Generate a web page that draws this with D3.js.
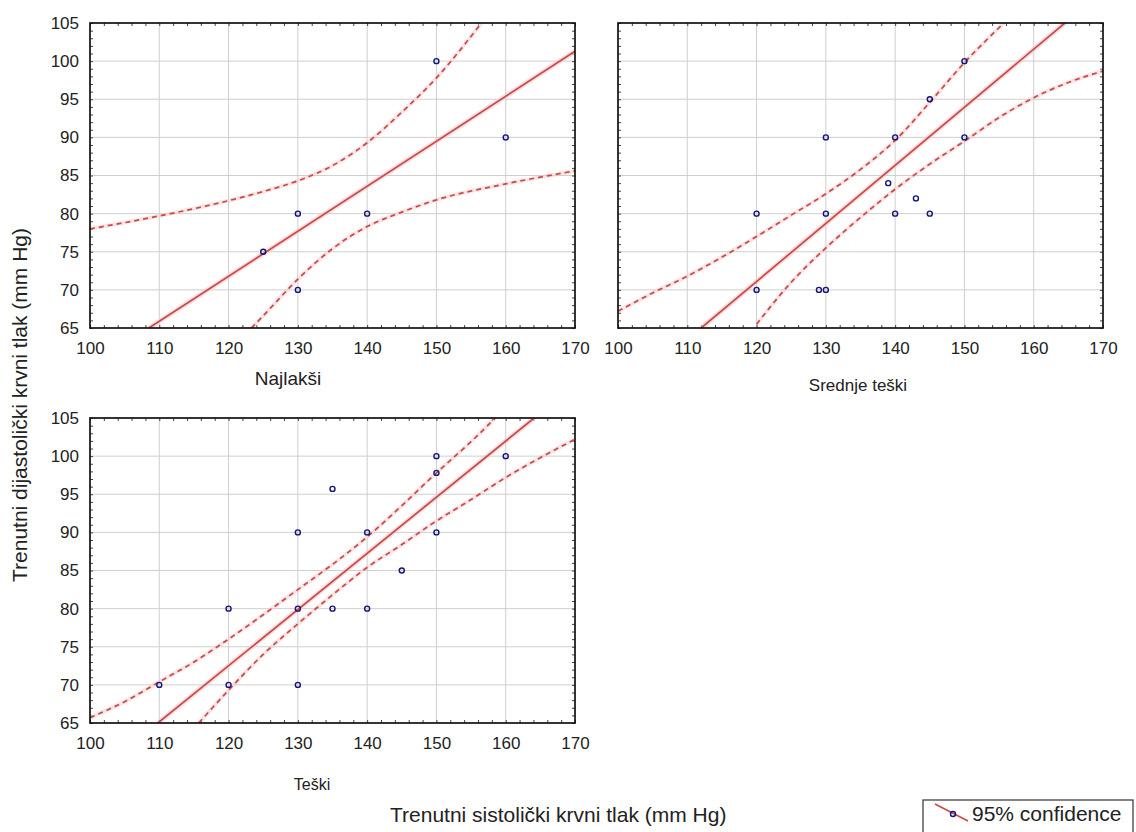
<!DOCTYPE html>
<html>
<head>
<meta charset="utf-8">
<script src="https://cdn.jsdelivr.net/npm/d3@7"></script>
<style>
  body { margin: 0; background: #fff; }
  svg { display: block; font-family: "Liberation Sans", Arial, sans-serif; }
  .tick-label { font-size: 17px; fill: #222; }
</style>
</head>
<body>
<div id="chart"></div>
<script>
// ticks
const xTicks = [100, 110, 120, 130, 140, 150, 160, 170];
const yTicks = [65, 70, 75, 80, 85, 90, 95, 100, 105];

// Najlakši
const najlaksiX = [125, 130, 130, 140, 150, 160];
const najlaksiY = [75, 80, 70, 80, 100, 90];
const najlaksiFitX = [108.5, 170];
const najlaksiFitY = [65, 101.3];
const najlaksiUpX = [100, 110, 120, 125, 130, 135, 140, 145, 150, 156.5];
const najlaksiUpY = [78.0, 79.7, 81.7, 82.9, 84.3, 86.3, 89.3, 93.3, 97.8, 105];
const najlaksiLoX = [123.3, 125, 130, 135, 140, 145, 150, 160, 170];
const najlaksiLoY = [65, 66.6, 71.4, 75.4, 78.3, 80.2, 81.8, 83.9, 85.6];

// Srednje teški
const srednjeX = [120, 120, 130, 130, 129, 130, 140, 140, 139, 143, 145, 145, 150, 150];
const srednjeY = [80, 70, 90, 80, 70, 70, 90, 80, 84, 82, 80, 95, 100, 90];
const srednjeFitX = [112, 164.5];
const srednjeFitY = [65, 105];
const srednjeUpX = [100, 105, 110, 115, 120, 125, 130, 135, 140, 145, 150, 155.7];
const srednjeUpY = [67.2, 69.6, 71.8, 74.3, 77.0, 79.8, 82.6, 85.8, 89.6, 94.6, 99.8, 105];
const srednjeLoX = [120, 125, 130, 135, 140, 145, 150, 155, 160, 165, 170];
const srednjeLoY = [65.5, 71.0, 75.5, 79.5, 83.2, 86.5, 89.5, 92.6, 95.2, 97.2, 98.7];

// Teški
const teskiX = [110, 120, 120, 130, 130, 130, 135, 135, 140, 140, 145, 150, 150, 150, 160];
const teskiY = [70, 80, 70, 90, 80, 70, 95.7, 80, 90, 80, 85, 100, 97.8, 90, 100];
const teskiFitX = [109.8, 164.1];
const teskiFitY = [65, 105];
const teskiUpX = [100, 105, 110, 115, 120, 125, 130, 135, 140, 145, 150, 155, 158.5];
const teskiUpY = [65.7, 67.8, 70.4, 73.0, 76.0, 79.2, 82.5, 85.8, 89.4, 93.5, 97.8, 101.9, 105];
const teskiLoX = [115.7, 120, 125, 130, 135, 140, 145, 150, 155, 160, 165, 170];
const teskiLoY = [65, 69.3, 74.0, 78.0, 81.8, 85.4, 88.4, 91.5, 94.3, 97.2, 99.8, 102.2];

const zip = (xs, ys) => xs.map((x, i) => [x, ys[i]]);

const panels = [
  { id: "p1", left: 90, top: 23, showY: true, label: "Najlakši", lx: 288, ly: 385, lsize: 19,
    pts: zip(najlaksiX, najlaksiY), fit: zip(najlaksiFitX, najlaksiFitY),
    up: zip(najlaksiUpX, najlaksiUpY), lo: zip(najlaksiLoX, najlaksiLoY) },
  { id: "p2", left: 618, top: 23, showY: false, label: "Srednje teški", lx: 858, ly: 391, lsize: 17,
    pts: zip(srednjeX, srednjeY), fit: zip(srednjeFitX, srednjeFitY),
    up: zip(srednjeUpX, srednjeUpY), lo: zip(srednjeLoX, srednjeLoY) },
  { id: "p3", left: 90, top: 418, showY: true, label: "Teški", lx: 312, ly: 790, lsize: 16,
    pts: zip(teskiX, teskiY), fit: zip(teskiFitX, teskiFitY),
    up: zip(teskiUpX, teskiUpY), lo: zip(teskiLoX, teskiLoY) }
];

const W = 1136, H = 832;
const pw = 485, ph = 305;
const red = "#c94848";
const blue = "#14147a";

const svg = d3.select("#chart").append("svg")
  .attr("width", W).attr("height", H);

panels.forEach(p => {
  const x = d3.scaleLinear().domain([100, 170]).range([0, pw]);
  const y = d3.scaleLinear().domain([65, 105]).range([ph, 0]);
  const g = svg.append("g").attr("transform", "translate(" + p.left + "," + p.top + ")");

  g.append("clipPath").attr("id", "clip-" + p.id)
    .append("rect").attr("width", pw).attr("height", ph);

  // grid
  g.append("g").selectAll("line").data(xTicks.slice(1, -1)).enter().append("line")
    .attr("x1", d => x(d)).attr("x2", d => x(d))
    .attr("y1", 0).attr("y2", ph)
    .attr("stroke", "#cfcfcf").attr("stroke-width", 1);
  g.append("g").selectAll("line").data(yTicks.slice(1, -1)).enter().append("line")
    .attr("y1", d => y(d)).attr("y2", d => y(d))
    .attr("x1", 0).attr("x2", pw)
    .attr("stroke", "#cfcfcf").attr("stroke-width", 1);

  // inner minor ticks on all four sides
  const tk = 3;
  g.append("g").call(d3.axisBottom(x).ticks(35).tickSize(tk).tickFormat(""))
    .attr("transform", "translate(0," + (ph - tk) + ")")
    .call(a => a.select(".domain").remove());
  g.append("g").call(d3.axisTop(x).ticks(35).tickSize(tk).tickFormat(""))
    .attr("transform", "translate(0," + tk + ")")
    .call(a => a.select(".domain").remove());
  g.append("g").call(d3.axisLeft(y).ticks(40).tickSize(tk).tickFormat(""))
    .attr("transform", "translate(" + tk + ",0)")
    .call(a => a.select(".domain").remove());
  g.append("g").call(d3.axisRight(y).ticks(40).tickSize(tk).tickFormat(""))
    .attr("transform", "translate(" + (pw - tk) + ",0)")
    .call(a => a.select(".domain").remove());
  g.selectAll(".tick line").attr("stroke", "#444");

  // tick labels
  g.append("g").call(d3.axisBottom(x).tickValues(xTicks).tickSize(0).tickPadding(14))
    .attr("transform", "translate(0," + ph + ")")
    .call(a => a.select(".domain").remove())
    .selectAll("text").attr("class", "tick-label").attr("font-size", null).attr("font-family", null);
  if (p.showY) {
    g.append("g").call(d3.axisLeft(y).tickValues(yTicks).tickSize(0).tickPadding(11))
      .call(a => a.select(".domain").remove())
      .selectAll("text").attr("class", "tick-label").attr("font-size", null).attr("font-family", null);
  }

  const line = d3.line().x(d => x(d[0])).y(d => y(d[1]));
  const curve = d3.line().x(d => x(d[0])).y(d => y(d[1])).curve(d3.curveMonotoneX);
  const lines = g.append("g").attr("clip-path", "url(#clip-" + p.id + ")");

  [p.up, p.lo].forEach(band => {
    lines.append("path").datum(band).attr("d", curve)
      .attr("fill", "none").attr("stroke", "#f3caca").attr("stroke-width", 4).attr("opacity", 0.5);
    lines.append("path").datum(band).attr("d", curve)
      .attr("fill", "none").attr("stroke", red).attr("stroke-width", 1.7)
      .attr("stroke-dasharray", "5,4");
  });
  lines.append("path").datum(p.fit).attr("d", line)
    .attr("fill", "none").attr("stroke", "#f3caca").attr("stroke-width", 5).attr("opacity", 0.6);
  lines.append("path").datum(p.fit).attr("d", line)
    .attr("fill", "none").attr("stroke", red).attr("stroke-width", 1.7);

  g.selectAll(".pt").data(p.pts).enter().append("circle")
    .attr("cx", d => x(d[0])).attr("cy", d => y(d[1])).attr("r", 2.5)
    .attr("fill", "none").attr("stroke", blue).attr("stroke-width", 1.4);

  // frame
  g.append("rect").attr("width", pw).attr("height", ph)
    .attr("fill", "none").attr("stroke", "#111").attr("stroke-width", 1.7);

  svg.append("text").attr("x", p.lx).attr("y", p.ly)
    .attr("text-anchor", "middle").attr("font-size", p.lsize).attr("fill", "#222")
    .text(p.label);
});

// axis titles
svg.append("text")
  .attr("transform", "translate(27,405) rotate(-90)")
  .attr("text-anchor", "middle").attr("font-size", 21).attr("fill", "#222")
  .text("Trenutni dijastolički krvni tlak (mm Hg)");

svg.append("text")
  .attr("x", 390).attr("y", 822)
  .attr("font-size", 21).attr("fill", "#222")
  .text("Trenutni sistolički krvni tlak (mm Hg)");

// legend
const lg = svg.append("g");
lg.append("rect").attr("x", 923).attr("y", 800).attr("width", 210).attr("height", 40)
  .attr("fill", "#fff").attr("stroke", "#333").attr("stroke-width", 1.2);
lg.append("line").attr("x1", 935).attr("y1", 804).attr("x2", 968).attr("y2", 821)
  .attr("stroke", red).attr("stroke-width", 1.5);
lg.append("circle").attr("cx", 953).attr("cy", 814).attr("r", 2.5)
  .attr("fill", "none").attr("stroke", blue).attr("stroke-width", 1.4);
lg.append("text").attr("x", 972).attr("y", 821)
  .attr("font-size", 21).attr("fill", "#222")
  .text("95% confidence");
</script>
</body>
</html>
